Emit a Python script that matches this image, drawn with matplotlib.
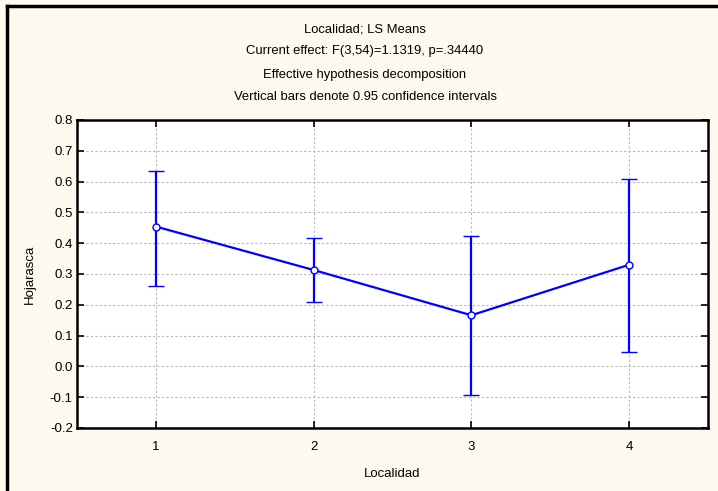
import matplotlib.pyplot as plt
from matplotlib.lines import Line2D

# LS means per Localidad with 0.95 confidence limits
localidad = [1, 2, 3, 4]
means = [0.454, 0.313, 0.166, 0.330]
upper = [0.636, 0.418, 0.423, 0.609]
lower = [0.261, 0.209, -0.094, 0.046]
yticks = [-0.2, -0.1, 0.0, 0.1, 0.2, 0.3, 0.4, 0.5, 0.6, 0.7, 0.8]

titulo = ["Localidad; LS Means",
          "Current effect: F(3,54)=1.1319, p=.34440",
          "Effective hypothesis decomposition",
          "Vertical bars denote 0.95 confidence intervals"]

plt.rcParams['font.family'] = ['Liberation Sans', 'DejaVu Sans']

fig = plt.figure(figsize=(7.18, 4.91), dpi=100, facecolor='#fef9ee')
ax = fig.add_axes([77/718, 1-428/491, (708-77)/718, (428-120)/491])
ax.set_facecolor('white')

err_lo = [m - l for m, l in zip(means, lower)]
err_hi = [u - m for m, u in zip(means, upper)]
ax.errorbar(localidad, means, yerr=[err_lo, err_hi], color='#0000ff', lw=1.6,
            capsize=6, capthick=1.6, marker='o', ms=5, mfc='white',
            mec='#0000ff', mew=1.0, zorder=3)

ax.set_xlim(0.5, 4.5)
ax.set_ylim(-0.2, 0.8)
ax.set_xticks(localidad)
ax.set_yticks(yticks)
ax.set_yticklabels(["%.1f" % v for v in yticks])
ax.tick_params(direction='in', length=5, width=1.2, labelsize=9.5,
               top=True, right=True)
ax.tick_params(axis='x', pad=9)
ax.tick_params(axis='y', pad=3)
ax.grid(True, color='#b8b8b8', ls=(0, (2, 2)), lw=0.8)
for s in ax.spines.values():
    s.set_linewidth(1.8)

ax.set_xlabel("Localidad", fontsize=9.5, labelpad=11)
ax.set_ylabel("Hojarasca", fontsize=9.5, labelpad=10)

ys = [30, 51, 75, 97]
for t, y in zip(titulo, ys):
    fig.text(365/718, 1-y/491, t, ha='center', va='center', fontsize=9.4)

# outer frame (left and top edges visible)
fig.add_artist(Line2D([7/718, 7/718], [0, 1-6/491], transform=fig.transFigure, color='black', lw=2.5))
fig.add_artist(Line2D([7/718, 1], [1-6/491, 1-6/491], transform=fig.transFigure, color='black', lw=2.5))

fig.savefig("out.png", dpi=100, facecolor=fig.get_facecolor())
